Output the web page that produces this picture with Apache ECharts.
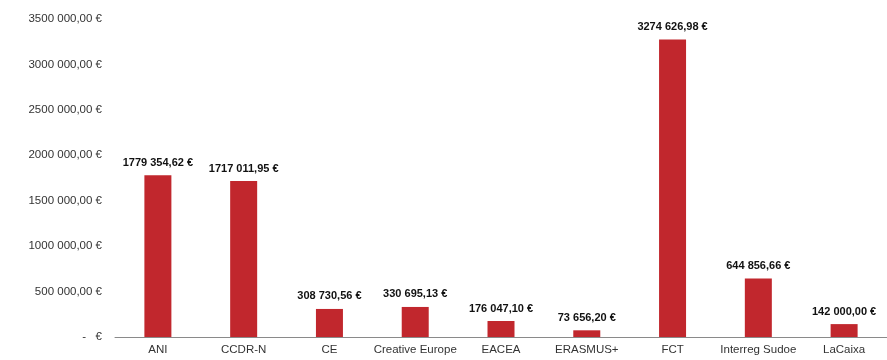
<!DOCTYPE html>
<html><head><meta charset="utf-8">
<script src="https://cdn.jsdelivr.net/npm/echarts@6/dist/echarts.min.js"></script>
<style>html,body{margin:0;padding:0;background:#fff}#c{width:887px;height:360px}</style>
</head><body><div id="c"></div>
<script>
const categories = ['ANI','CCDR-N','CE','Creative Europe','EACEA','ERASMUS+','FCT','Interreg Sudoe','LaCaixa'];
const values = [1779354.62,1717011.95,308730.56,330695.13,176047.10,73656.20,3274626.98,644856.66,142000.00];
const yTicks = [0,500000,1000000,1500000,2000000,2500000,3000000,3500000];

function fmt(v){
  if (v === 0) return '-   €';
  const parts = v.toFixed(2).split('.');
  let intp = parts[0];
  if (intp.length > 3) intp = intp.slice(0, -3) + ' ' + intp.slice(-3);
  return intp + ',' + parts[1] + ' €';
}
const chart = echarts.init(document.getElementById('c'));
chart.setOption({
  animation:false,
  grid:{left:115, right:-6, top:19, bottom:23},
  xAxis:{type:'category', data:categories,
    axisLine:{lineStyle:{color:'#8a8a8a', width:1}},
    axisTick:{show:false},
    axisLabel:{color:'#333', fontSize:11.5, fontFamily:'Liberation Sans Narrow, sans-serif', margin:7, interval:0}
  },
  yAxis:{type:'value', min:yTicks[0], max:yTicks[yTicks.length-1], interval:500000,
    splitLine:{show:false}, axisLine:{show:false}, axisTick:{show:false},
    axisLabel:{color:'#333', fontSize:11.5, fontFamily:'Liberation Sans, sans-serif', margin:13, formatter:fmt}
  },
  series:[{type:'bar', data:values, barWidth:27,
    itemStyle:{color:'#c1272d'},
    label:{show:true, position:'top', distance:7, color:'#111', fontWeight:'bold', fontSize:11,
      fontFamily:'Liberation Sans Narrow, sans-serif',
      formatter:p=>fmt(p.value)}
  }]
});
</script></body></html>
